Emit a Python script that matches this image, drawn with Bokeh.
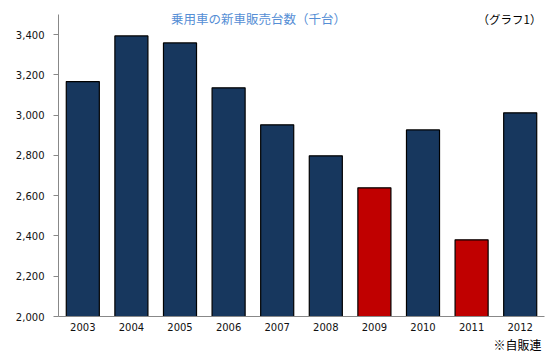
from bokeh.plotting import figure
from bokeh.models import Range1d, FixedTicker, NumeralTickFormatter, Label, ColumnDataSource, Title
from bokeh.embed import file_html
from bokeh.resources import INLINE

years = ["2003", "2004", "2005", "2006", "2007", "2008", "2009", "2010", "2011", "2012"]
sales = [3167, 3394, 3359, 3136, 2952, 2798, 2639, 2927, 2381, 3012]
colors = ["#17375E", "#17375E", "#17375E", "#17375E", "#17375E", "#17375E",
          "#C00000", "#17375E", "#C00000", "#17375E"]
y_ticks = [2000, 2200, 2400, 2600, 2800, 3000, 3200, 3400]
title_text = "乗用車の新車販売台数（千台）"
graph_label = "（グラフ1）"
source_note = "※自販連"

src = ColumnDataSource(dict(x=years, top=sales, color=colors))

p = figure(x_range=years, y_range=Range1d(2000, 3540), width=552, height=353,
           output_backend="svg", toolbar_location=None,
           min_border_left=58, min_border_right=8, min_border_top=6, min_border_bottom=37)
p.vbar(x="x", top="top", bottom=2000, width=0.68, fill_color="color",
       line_color="black", line_width=1.2, source=src)

p.xgrid.visible = False
p.ygrid.visible = False
p.outline_line_color = None
p.background_fill_color = "white"

p.yaxis.bounds = (2000, 3500)
p.yaxis.ticker = FixedTicker(ticks=y_ticks)
p.yaxis.formatter = NumeralTickFormatter(format="0,0")
p.yaxis.axis_line_color = "#888888"
p.yaxis.major_tick_line_color = "#888888"
p.yaxis.major_tick_out = 5
p.yaxis.major_tick_in = 0
p.yaxis.minor_tick_line_color = None
p.yaxis.major_label_standoff = 9
p.yaxis.major_label_text_font = "DejaVu Sans"
p.yaxis.major_label_text_font_size = "10px"
p.yaxis.major_label_text_color = "#111111"

p.xaxis.axis_line_color = "#888888"
p.xaxis.major_tick_line_color = None
p.xaxis.major_tick_out = 0
p.xaxis.major_tick_in = 0
p.xaxis.minor_tick_line_color = None
p.xaxis.minor_tick_out = 0
p.xaxis.major_label_standoff = 6
p.xaxis.major_label_text_font = "DejaVu Sans"
p.xaxis.major_label_text_font_size = "10px"
p.xaxis.major_label_text_color = "#111111"

# Label screen units are measured from the frame's bottom-left corner
p.add_layout(Label(x=200, y=298, x_units="screen", y_units="screen", text=title_text,
                   text_font="Noto Sans CJK JP", text_font_size="12.5px", text_font_style="normal",
                   text_color="#558ED5", text_align="center", text_baseline="middle"))
p.add_layout(Label(x=483, y=298, x_units="screen", y_units="screen", text=graph_label,
                   text_font="Noto Sans CJK JP", text_font_size="11.5px", text_font_style="normal",
                   text_color="black", text_align="right", text_baseline="middle"))
p.add_layout(Title(text=source_note, align="right", text_font="Noto Sans CJK JP",
                   text_font_size="12px", text_font_style="normal", text_color="black",
                   standoff=0, offset=3), "below")

open("out.html", "w").write(file_html(p, INLINE))
